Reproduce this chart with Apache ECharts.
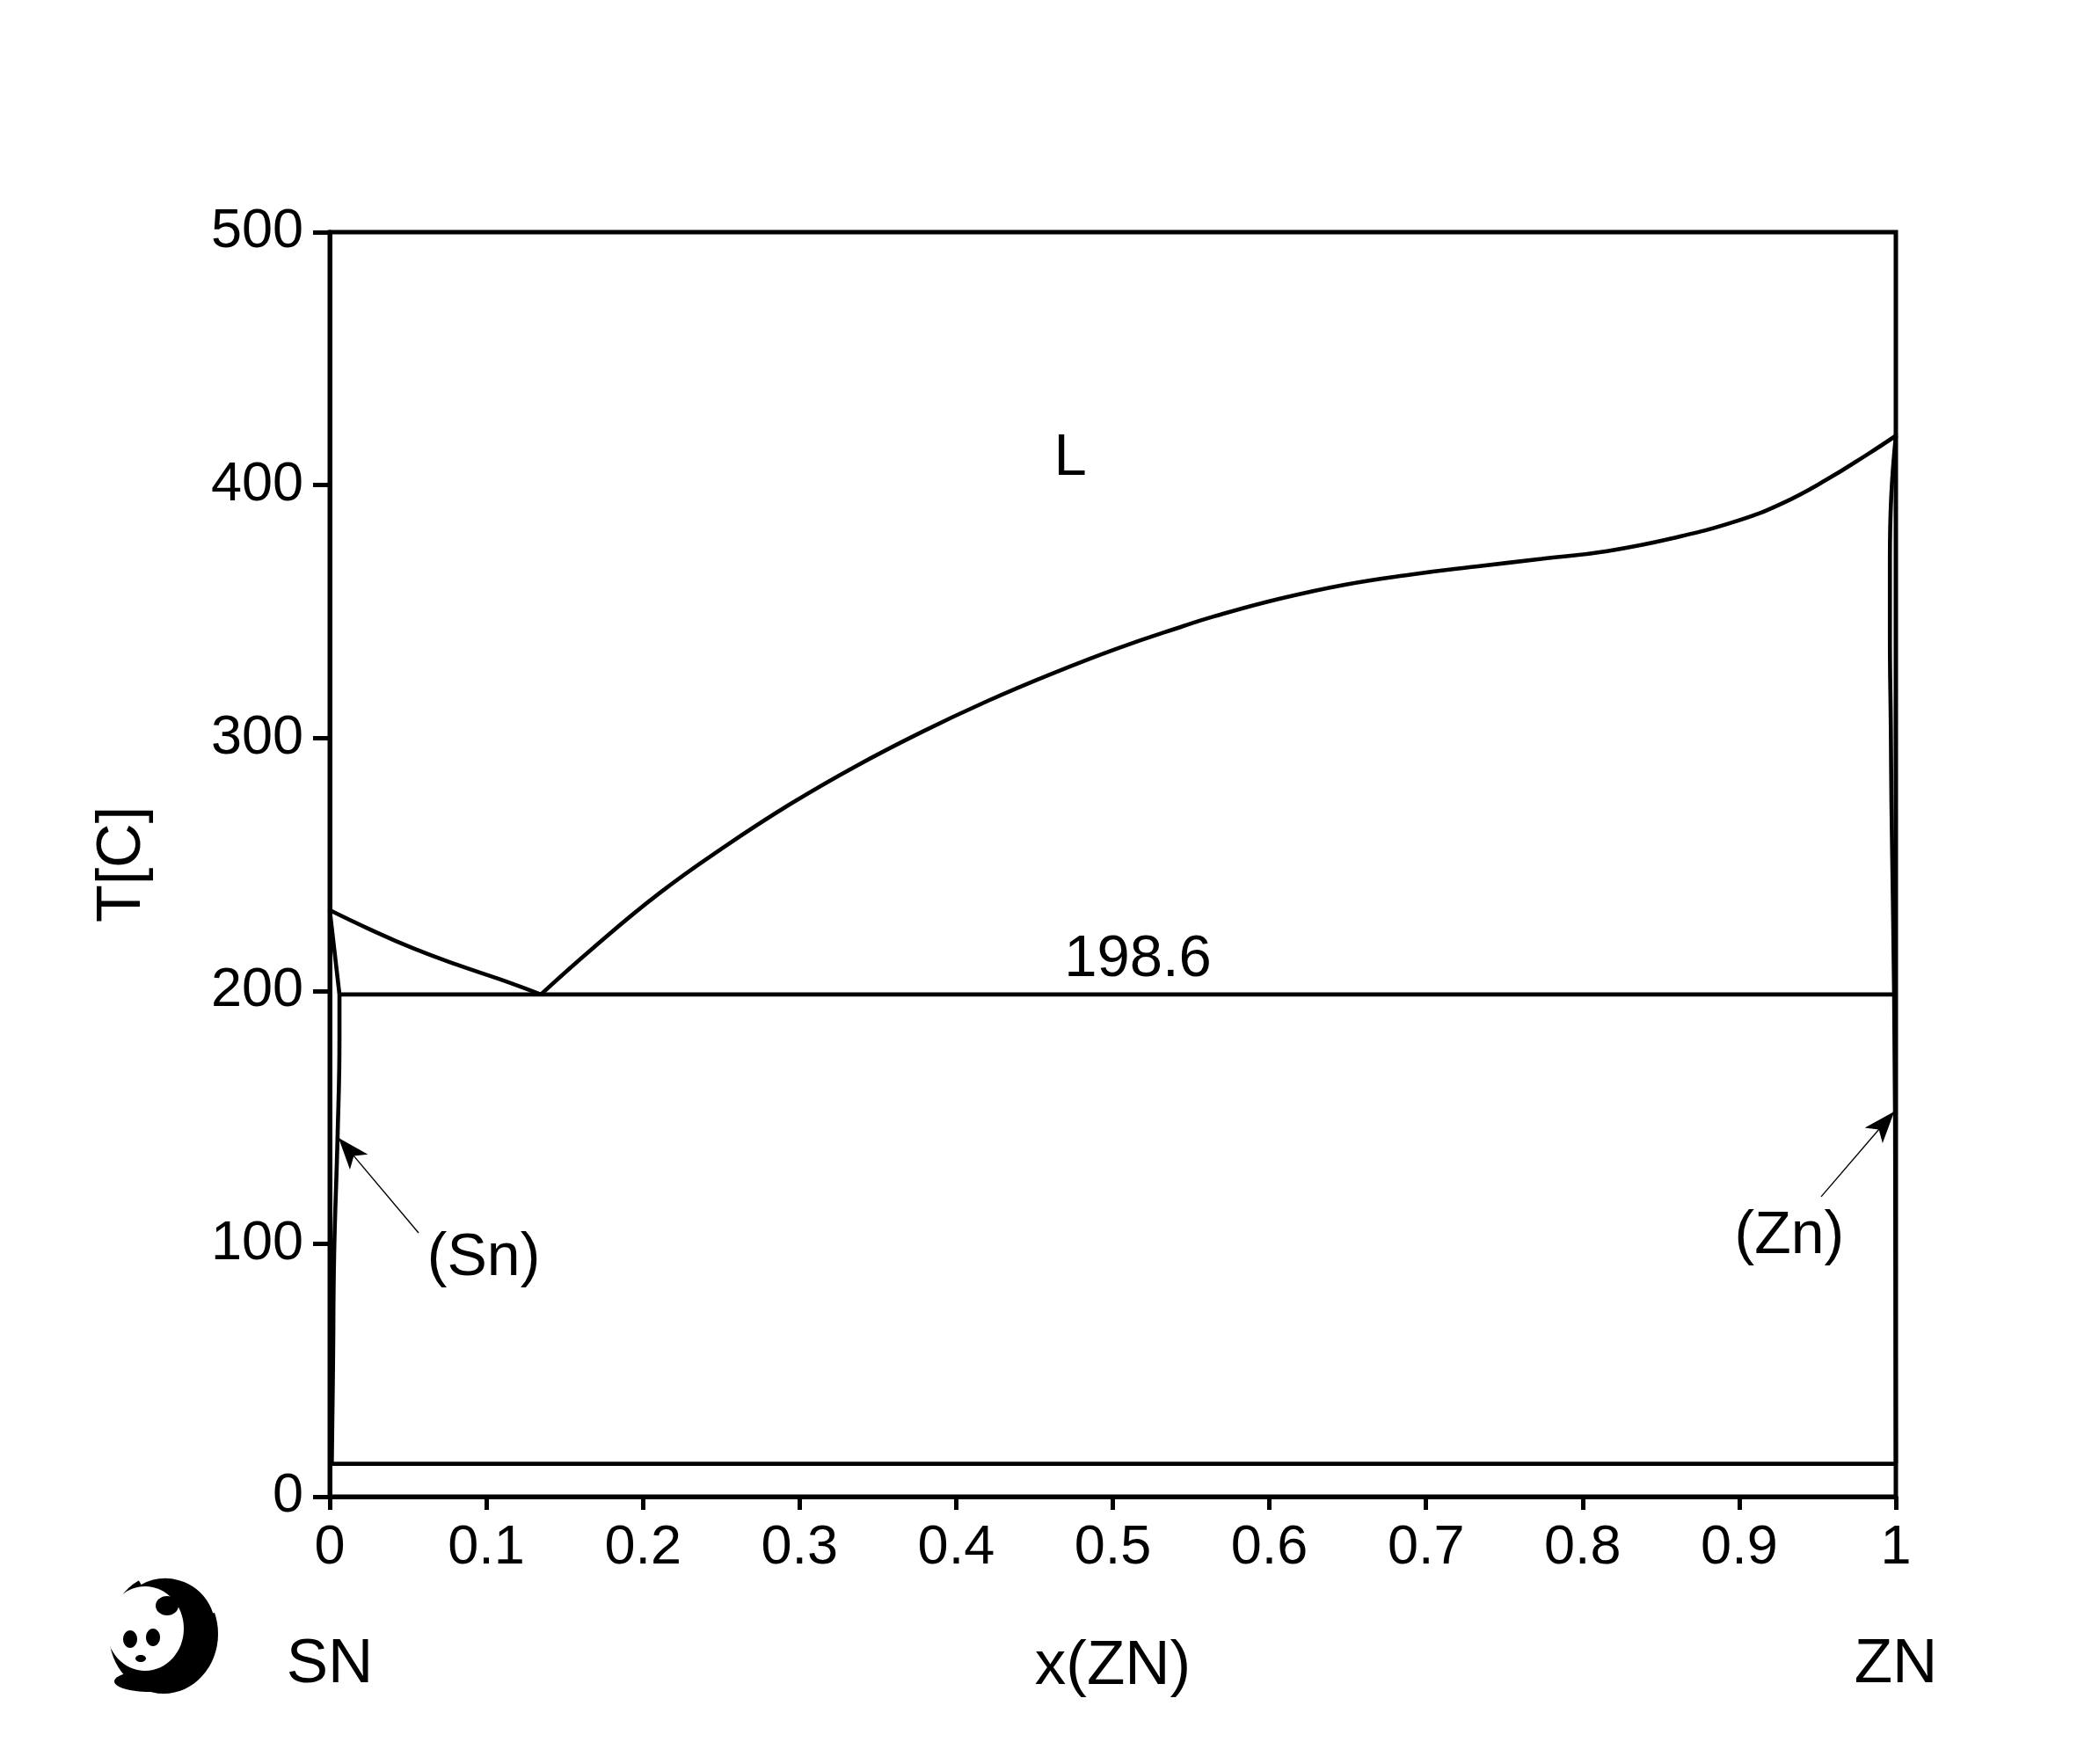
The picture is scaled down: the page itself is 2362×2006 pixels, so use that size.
<!DOCTYPE html>
<html>
<head>
<meta charset="utf-8">
<script src="https://cdn.jsdelivr.net/npm/echarts@6/dist/echarts.min.js"></script>
<style>
html,body{margin:0;padding:0;background:#fff;}
#c{width:2362px;height:2006px;}
</style>
</head>
<body>
<div id="c"></div>
<script>
// ---- data (x = mole fraction Zn, T in °C) ----
var xTicks = [0, 0.1, 0.2, 0.3, 0.4, 0.5, 0.6, 0.7, 0.8, 0.9, 1];
var yTicks = [0, 100, 200, 300, 400, 500];

var liquidusSn = [[0,231.9],[0.0253,224.4],[0.0533,216.8],[0.0814,210.3],[0.1095,204.4],[0.1348,198.6]];
var liquidusZn = [[0.1348,198.6],[0.1682,217.0],[0.2102,238.5],[0.2521,257.0],[0.2939,273.8],[0.3358,288.8],
  [0.3778,302.3],[0.4196,314.5],[0.4615,325.5],[0.5034,335.5],[0.5454,344.3],[0.5643,348.0],[0.6062,355.0],
  [0.6481,360.6],[0.690,364.6],[0.7319,367.8],[0.7738,370.8],[0.8157,373.9],[0.8576,379.0],[0.8995,386.0],
  [0.9275,392.8],[0.9554,402.0],[0.9833,412.7],[1,419.5]];
var solidusSn = [[0,231.9],[0.0062,198.6]];
var solvusSn = [[0.0062,198.6],[0.0062,181],[0.005,142.5],[0.0028,95.8],[0.0021,53],[0.0013,13]];
var solidusZn = [[1,419.5],[0.997,394.7],[0.9962,370.6],[0.9962,340.5],[0.9968,304],[0.9972,274],[0.9981,236.4],[0.9989,198.6]];
var solvusZn = [[0.9989,198.6],[0.9995,150],[1,13]];
var eutectic = [[0.0062,198.6],[0.9989,198.6]];
var allotropic = [[0,13],[1,13]];

var annoText = ['L', '198.6', '(Sn)', '(Zn)'];
var annoX = [0.4728, 0.516, 0.0983, 0.932];
var annoT = [410.3, 212.4, 94.1, 102.7];

var arrowSn = [[0.0567,104.3],[0.0056,141.9]];
var arrowZn = [[0.9523,118.6],[0.9990,152.3]];

var compLeft = 'SN', compRight = 'ZN';
var xName = 'x(ZN)', yName = 'T[C]';

// ---- chart ----
var FONT = 'Liberation Sans, Arial, sans-serif';
var chart = echarts.init(document.getElementById('c'), null, {renderer: 'canvas'});

function lineSeries(name, data, smooth) {
  return {
    name: name, type: 'line', data: data, showSymbol: false, symbol: 'none',
    smooth: smooth ? 0.45 : false,
    clip: false, silent: true,
    lineStyle: {color: '#000', width: 4.6}, z: 3
  };
}

var annoSizes = [67, 67, 68, 68];
var annoData = annoText.map(function (t, i) {
  return {value: [annoX[i], annoT[i]], name: t,
    label: {show: true, formatter: t, fontSize: annoSizes[i], color: '#000', opacity: 1, fontFamily: FONT, position: 'inside'}};
});

var series = [
  lineSeries('liquidusSn', liquidusSn, true),
  lineSeries('liquidusZn', liquidusZn, true),
  lineSeries('solidusSn', solidusSn, false),
  lineSeries('solvusSn', solvusSn, true),
  lineSeries('solidusZn', solidusZn, true),
  lineSeries('solvusZn', solvusZn, false),
  lineSeries('eutectic', eutectic, false),
  (function () {
    var s = lineSeries('allotropic', allotropic, false);
    s.markLine = {
      silent: true, animation: false,
      symbol: ['none', 'arrow'], symbolSize: [20, 36],
      label: {show: false},
      lineStyle: {type: 'solid', color: '#000', width: 1.4, opacity: 1},
      itemStyle: {color: '#000'},
      data: [
        [{coord: arrowSn[0]}, {coord: arrowSn[1]}],
        [{coord: arrowZn[0]}, {coord: arrowZn[1]}]
      ]
    };
    return s;
  })(),
  {
    name: 'labels', type: 'scatter', data: annoData, symbolSize: 0, silent: true, clip: false, z: 5,
    itemStyle: {opacity: 1, color: '#000'}
  }
];

chart.setOption({
  animation: false,
  backgroundColor: '#fff',
  grid: {left: 375, right: 206, top: 264, bottom: 304, show: true, borderColor: '#000', borderWidth: 5, containLabel: false},
  xAxis: {
    type: 'value', min: 0, max: 1, interval: 0.1,
    name: xName, nameLocation: 'middle', nameGap: 158,
    nameTextStyle: {fontSize: 71, color: '#000', fontFamily: FONT},
    axisLine: {show: true, onZero: false, lineStyle: {color: '#000', width: 5}},
    axisTick: {show: true, inside: false, length: 15, lineStyle: {color: '#000', width: 5}},
    axisLabel: {show: true, margin: 27, fontSize: 63, color: '#000', fontFamily: FONT,
      formatter: function (v) { var r = Math.round(v * 10) / 10; return xTicks.indexOf(r) >= 0 ? String(r) : ''; }},
    splitLine: {show: false}
  },
  yAxis: {
    type: 'value', min: 0, max: 500, interval: 100,
    name: yName, nameLocation: 'middle', nameGap: 200, nameRotate: 90,
    nameTextStyle: {fontSize: 70, color: '#000', fontFamily: FONT},
    axisLine: {show: true, onZero: false, lineStyle: {color: '#000', width: 5}},
    axisTick: {show: true, inside: false, length: 19, lineStyle: {color: '#000', width: 5}},
    axisLabel: {show: true, margin: 30, fontSize: 63, color: '#000', fontFamily: FONT,
      padding: [0, 0, 12, 0],
      formatter: function (v) { return yTicks.indexOf(v) >= 0 ? String(v) : ''; }},
    splitLine: {show: false}
  },
  series: series
});

// component labels under the x-axis ends, positioned through the axis scale
var pL = chart.convertToPixel({gridIndex: 0}, [0, 0]);
var pR = chart.convertToPixel({gridIndex: 0}, [1, 0]);
var labY = pL[1] + 191;
chart.setOption({
  graphic: [
    {type: 'text', x: pL[0], y: labY, style: {text: compLeft, font: '71px ' + FONT, fill: '#000', textAlign: 'center', textVerticalAlign: 'middle'}},
    {type: 'text', x: pR[0], y: labY, style: {text: compRight, font: '71px ' + FONT, fill: '#000', textAlign: 'center', textVerticalAlign: 'middle'}},
    // small panda logo
    {type: 'group', x: 0, y: 0, children: [
      {type: 'ellipse', shape: {cx: 186, cy: 1858, rx: 62, ry: 68}, style: {fill: '#000'}},
      {type: 'ellipse', shape: {cx: 165, cy: 1852, rx: 44, ry: 48}, style: {fill: '#fff'}},
      {type: 'ellipse', shape: {cx: 190, cy: 1826, rx: 13, ry: 11}, style: {fill: '#000'}},
      {type: 'ellipse', shape: {cx: 148, cy: 1864, rx: 8, ry: 10}, style: {fill: '#000'}},
      {type: 'ellipse', shape: {cx: 174, cy: 1862, rx: 8, ry: 10}, style: {fill: '#000'}},
      {type: 'ellipse', shape: {cx: 160, cy: 1886, rx: 6, ry: 4}, style: {fill: '#000'}},
      {type: 'ellipse', shape: {cx: 170, cy: 1912, rx: 40, ry: 12}, style: {fill: '#000'}},
      {type: 'arc', shape: {cx: 188, cy: 1852, r: 60, startAngle: -Math.PI * 0.66, endAngle: -Math.PI * 0.1}, style: {stroke: '#fff', lineWidth: 6, fill: 'none'}}
    ]}
  ]
});
</script>
</body>
</html>
